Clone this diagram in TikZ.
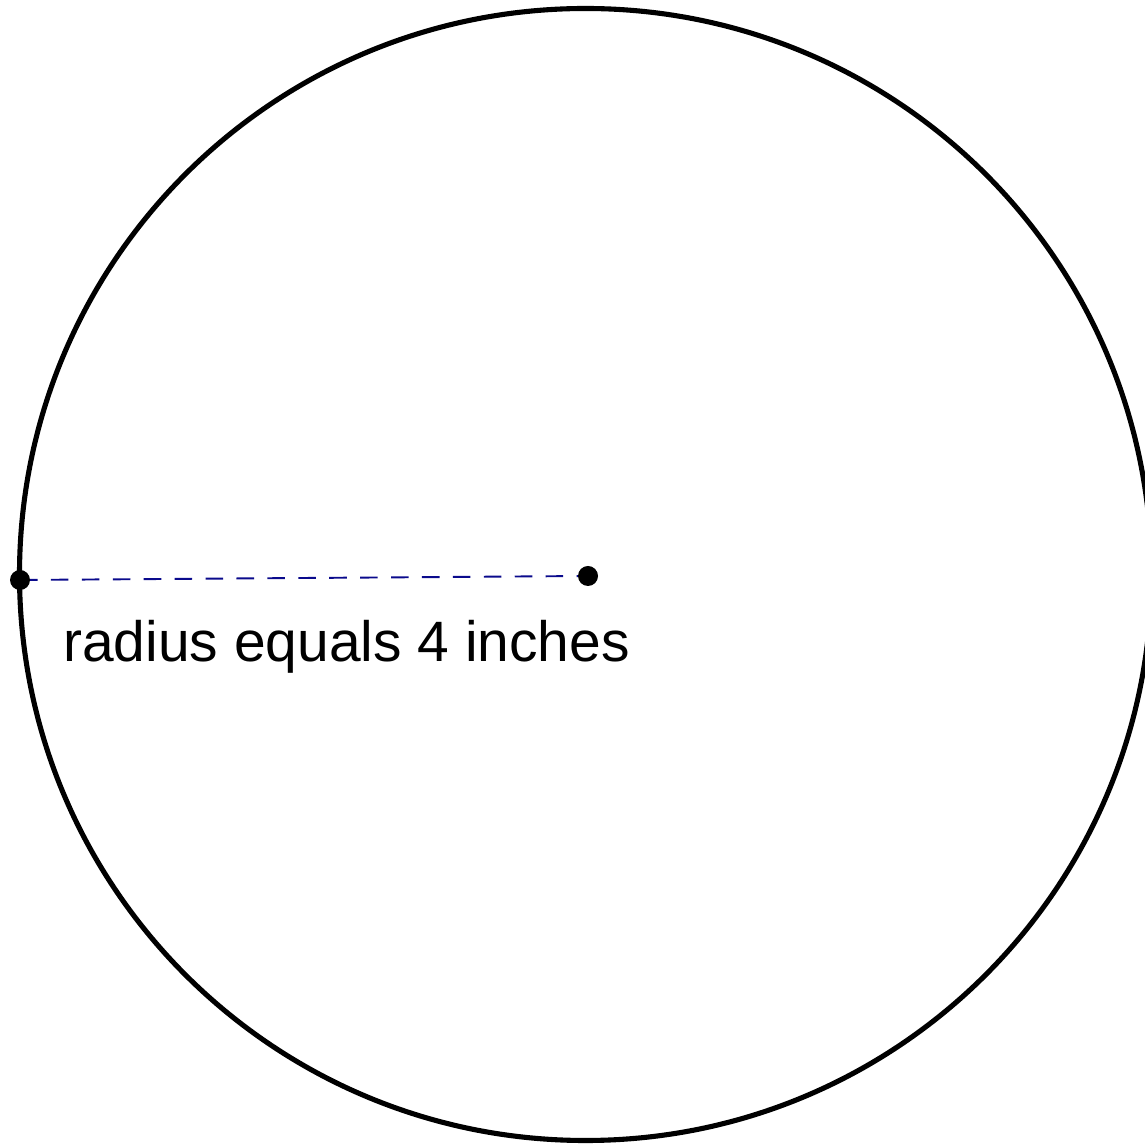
\documentclass[tikz,border=0pt]{standalone}
\usepackage{fontspec}
\setmainfont{Liberation Sans}
\definecolor{radblue}{RGB}{10,10,140}
\begin{document}
\begin{tikzpicture}[x=.02cm, y=.02cm, line join=round, line cap=round]
		\tikzset{rim/.style={line width=2.9pt},
		radline/.style={radblue, line width=1.1pt, line cap=butt, dash pattern=on 10pt off 7.6pt},
		label style/.style={font=\fontsize{32.4}{38}\selectfont, inner sep=0pt}}
		\def \W{1145}\def \H{1146}
		\useasboundingbox (0,0) rectangle (\W,\H);
		\clip (0,0) rectangle (\W,\H);
		\coordinate (C) at (585.5,571.5);
		\coordinate (P) at (20,566);
		\coordinate (O) at (588,570);
		\draw[rim] (C) circle (566);
		\draw[radline] (P)--(O);
		\fill[black] 
		(P) circle(10) 
		(O) circle(10)
		; 
		\node[label style, anchor=base west] (lbl) at (63,484) {radius equals 4 inches};
		\end{tikzpicture}
\end{document}
